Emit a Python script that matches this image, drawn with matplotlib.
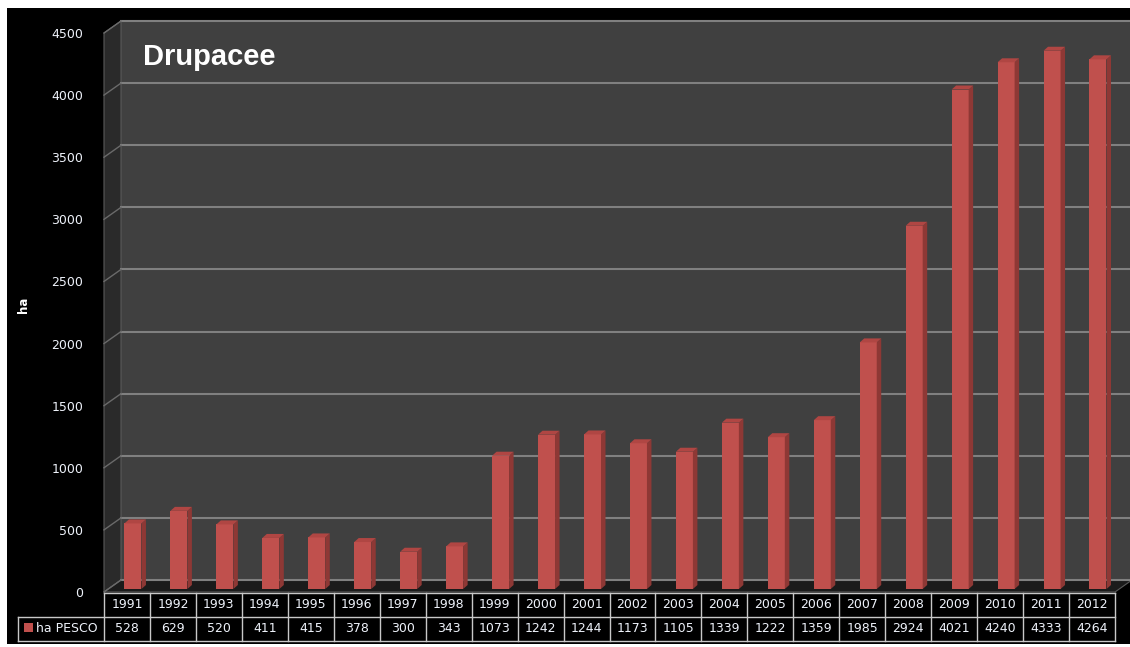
import numpy as np
from matplotlib import pyplot as plt
from matplotlib.patches import Polygon, Rectangle

# dati: ettari di pesco per anno
anni = ["1991", "1992", "1993", "1994", "1995", "1996", "1997", "1998", "1999", "2000", "2001",
        "2002", "2003", "2004", "2005", "2006", "2007", "2008", "2009", "2010", "2011", "2012"]
ha_pesco = [528, 629, 520, 411, 415, 378, 300, 343, 1073, 1242, 1244,
            1173, 1105, 1339, 1222, 1359, 1985, 2924, 4021, 4240, 4333, 4264]
serie = "ha PESCO"
titolo = "Drupacee"
yticks = [0, 500, 1000, 1500, 2000, 2500, 3000, 3500, 4000, 4500]

W, H = 1130, 647
fig = plt.figure(figsize=(W / 100, H / 100), dpi=100)
fig.patch.set_facecolor("white")
fig.add_artist(Rectangle((7 / W, 3 / H), 1123 / W, 636 / H, transform=fig.transFigure,
                         facecolor="black", edgecolor="none", zorder=-5))

ax = fig.add_axes([104 / W, (H - 592) / H, 1011 / W, 559 / H])
ax.set_facecolor("none")
n = len(anni)
ax.set_xlim(-0.5, n - 0.5)
ax.set_ylim(0, 4500)
for s in ax.spines.values():
    s.set_visible(False)
ax.set_xticks([])
ax.set_yticks(yticks)
ax.tick_params(axis="y", length=0, pad=15, labelsize=9, labelcolor="#eef2fa")
ax.set_ylabel("ha", color="white", fontsize=8.5, fontweight="bold")
ax.yaxis.set_label_coords(-0.073, 0.513)

px_x = 1011 / n          # pixel per categoria
px_y = 559 / 4500        # pixel per ettaro
DX = 17 / px_x           # profondita' 3D
DY = 12 / px_y
x0, x1 = -0.5, n - 0.5

# pareti e pavimento
ax.add_patch(Polygon([(x0 + DX, DY), (x0 + DX, 4500 + DY), (x1 + DX, 4500 + DY), (x1 + DX, DY)],
                     closed=True, facecolor="#404040", edgecolor="none", clip_on=False, zorder=0))
ax.add_patch(Polygon([(x0, 0), (x0, 4500), (x0 + DX, 4500 + DY), (x0 + DX, DY)],
                     closed=True, facecolor="#2a2a2a", edgecolor="#5a5a5a", lw=0.8, clip_on=False, zorder=0))
ax.add_patch(Polygon([(x0, 0), (x0 + DX, DY), (x1 + DX, DY), (x1, 0)],
                     closed=True, facecolor="#1b1b1b", edgecolor="#5a5a5a", lw=0.8, clip_on=False, zorder=0))
for v in yticks:
    ax.plot([x0 + DX, x1 + DX], [v + DY, v + DY], color="#808080", lw=1.5, clip_on=False, zorder=1)
    ax.plot([x0, x0 + DX], [v, v + DY], color="#6a6a6a", lw=1.0, clip_on=False, zorder=1)

# barre 3D
xs = np.arange(n) + 0.13
bw = 0.37
base = 3 / px_y
ddx = 4.5 / px_x
ddy = 4 / px_y
ax.bar(xs, ha_pesco, width=bw, bottom=base, color="#c0504d", clip_on=False, zorder=3)
for x, v in zip(xs, ha_pesco):
    l, r, t = x - bw / 2, x + bw / 2, v + base
    ax.add_patch(Polygon([(r, base), (r + ddx, base + ddy), (r + ddx, t + ddy), (r, t)],
                         closed=True, facecolor="#8e3835", edgecolor="none", clip_on=False, zorder=3))
    ax.add_patch(Polygon([(l, t), (l + ddx, t + ddy), (r + ddx, t + ddy), (r, t)],
                         closed=True, facecolor="#b04643", edgecolor="none", clip_on=False, zorder=3))

# tabella dati
rh = 24 / px_y
ya, yb, yc = -1 / px_y, -1 / px_y - rh, -1 / px_y - 2 * rh
xl = x0 - 86 / px_x
gc = "#c8c8c8"
ax.plot([x0, x1], [ya, ya], color=gc, lw=1, clip_on=False)
ax.plot([xl, x1], [yb, yb], color=gc, lw=1, clip_on=False)
ax.plot([xl, x1], [yc, yc], color=gc, lw=1, clip_on=False)
ax.plot([xl, xl], [yb, yc], color=gc, lw=1, clip_on=False)
for i in range(n + 1):
    ax.plot([i - 0.5, i - 0.5], [ya, yc], color=gc, lw=1, clip_on=False)
for i in range(n):
    ax.text(i, (ya + yb) / 2, anni[i], ha="center", va="center", color="#eef2fa", fontsize=9)
    ax.text(i, (yb + yc) / 2, str(ha_pesco[i]), ha="center", va="center", color="#eef2fa", fontsize=9)
ax.add_patch(Rectangle((xl + 6 / px_x, yb - 15 / px_y), 9 / px_x, 9 / px_y,
                       facecolor="#c0504d", edgecolor="none", clip_on=False))
ax.text(xl + 18 / px_x, (yb + yc) / 2, serie, ha="left", va="center", color="#eef2fa", fontsize=9)

fig.text(143 / W, (H - 65) / H, titolo, color="white", fontsize=21, fontweight="bold",
         family="Liberation Sans", va="baseline", ha="left")

fig.savefig("out.png", dpi=100, facecolor=fig.get_facecolor())
